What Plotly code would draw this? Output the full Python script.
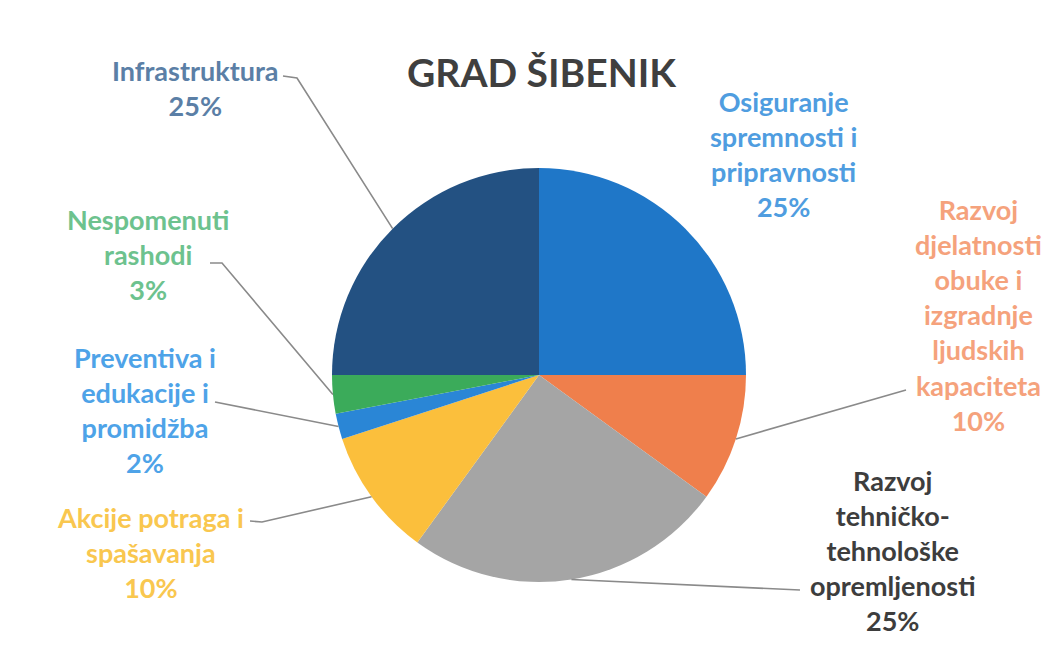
import math
import plotly.graph_objects as go

W, H = 1051, 649

# ---- data ----
categories = [
    "Osiguranje spremnosti i pripravnosti",
    "Razvoj djelatnosti obuke i izgradnje ljudskih kapaciteta",
    "Razvoj tehničko-tehnološke opremljenosti",
    "Akcije potraga i spašavanja",
    "Preventiva i edukacije i promidžba",
    "Nespomenuti rashodi",
    "Infrastruktura",
]
values = [25, 10, 25, 10, 2, 3, 25]
label_lines = [
    ["Osiguranje", "spremnosti i", "pripravnosti"],
    ["Razvoj", "djelatnosti", "obuke i", "izgradnje", "ljudskih", "kapaciteta"],
    ["Razvoj", "tehničko-", "tehnološke", "opremljenosti"],
    ["Akcije potraga i", "spašavanja"],
    ["Preventiva i", "edukacije i", "promidžba"],
    ["Nespomenuti", "rashodi"],
    ["Infrastruktura"],
]
title_text = "GRAD ŠIBENIK"

# ---- styles ----
slice_colors = ["#1f77c8", "#ef7f4c", "#a5a5a5", "#fbbf3c", "#2a86d6", "#3bab5a", "#235182"]
text_colors = ["#4f9de0", "#f5a27c", "#3d3d3d", "#f9c74f", "#4ea3e8", "#6dc28e", "#5b7fa6"]
# label block centres (px) and leader line label-side points (px)
label_pos = [(783, 154), (978, 315), (893, 550), (150, 552), (145, 410), (148, 254), (195, 88)]
leader_pts = [
    None,
    [(906, 390)],
    [(800, 590)],
    [(250, 521), (262, 522)],
    [(215, 402)],
    [(210, 263), (222, 263)],
    [(283, 76), (297, 78)],
]

cx, cy, r = 539, 375, 207
FONT = "Lato"


def px(x):
    return x / W


def py(y):
    return 1 - y / H


fig = go.Figure(go.Pie(
    labels=categories,
    values=values,
    sort=False,
    direction="clockwise",
    rotation=0,
    textinfo="none",
    hoverinfo="skip",
    marker=dict(colors=slice_colors, line=dict(width=0)),
    domain=dict(x=[px(cx - r), px(cx + r)], y=[py(cy + r), py(cy - r)]),
    showlegend=False,
))

total = sum(values)
annotations = []
shapes = []
cum = 0
for i, v in enumerate(values):
    pct = round(100 * v / total)
    txt = "<br>".join(label_lines[i] + [f"{pct}%"])
    lx, ly = label_pos[i]
    annotations.append(dict(
        x=px(lx), y=py(ly), xref="paper", yref="paper",
        text=txt, showarrow=False, xanchor="center", yanchor="middle",
        align="center",
        font=dict(family=FONT, size=27, color=text_colors[i], weight="bold"),
    ))
    frac = (cum + v / 2) / total
    cum += v
    if leader_pts[i]:
        th = 2 * math.pi * frac
        ex = cx + r * math.sin(th)
        ey = cy - r * math.cos(th)
        pts = leader_pts[i] + [(ex, ey)]
        path = "M " + " L ".join(f"{px(a):.5f},{py(b):.5f}" for a, b in pts)
        shapes.append(dict(type="path", path=path, xref="paper", yref="paper",
                           line=dict(color="#8a8a8a", width=1.6)))

annotations.append(dict(
    x=px(542), y=py(72), xref="paper", yref="paper", text=title_text,
    showarrow=False, xanchor="center", yanchor="middle",
    font=dict(family=FONT, size=39, color="#3f3f3f", weight="bold"),
))

fig.update_layout(
    width=W, height=H,
    margin=dict(l=0, r=0, t=0, b=0),
    paper_bgcolor="white",
    plot_bgcolor="white",
    annotations=annotations,
    shapes=shapes,
    hovermode=False,
)

fig.write_html("out.html", config={"displayModeBar": False})
